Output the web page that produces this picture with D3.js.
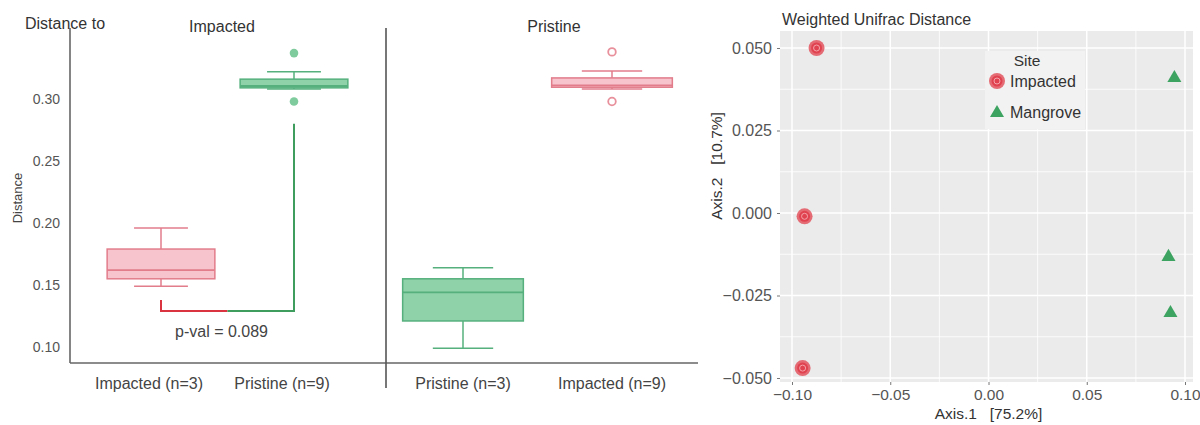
<!DOCTYPE html>
<html>
<head>
<meta charset="utf-8">
<script src="https://cdn.jsdelivr.net/npm/d3@7"></script>
<style>
  body { margin: 0; background: #fff; }
  svg { display: block; }
  text { font-family: "Liberation Sans", Arial, sans-serif; }
</style>
</head>
<body>
<svg id="chart" width="1200" height="425"></svg>
<script>
// ---- boxplots: distance to Impacted / Pristine ----
const panelTitles = ["Impacted", "Pristine"];
const panelCats = [["Impacted (n=3)", "Pristine (n=9)"], ["Pristine (n=3)", "Impacted (n=9)"]];
const panelGroups = [["Impacted", "Pristine"], ["Pristine", "Impacted"]];
const whiskLo = [[0.149, 0.308], [0.099, 0.308]];
const q1 = [[0.155, 0.309], [0.121, 0.3095]];
const med = [[0.162, 0.3105], [0.144, 0.311]];
const q3 = [[0.179, 0.316], [0.155, 0.317]];
const whiskHi = [[0.196, 0.322], [0.164, 0.3225]];
const outliers = [[[], [0.337, 0.298]], [[], [0.338, 0.298]]];
const distTicks = [0.10, 0.15, 0.20, 0.25, 0.30];
const bracketVals = [0.138, 0.129, 0.280]; // red top, bar level, green top
const pvalText = "p-val = 0.089";

// ---- PCoA, weighted unifrac ----
const pcoaSite = ["Impacted", "Impacted", "Impacted", "Mangrove", "Mangrove", "Mangrove"];
const axis1 = [-0.0875, -0.0936, -0.0946, 0.0946, 0.0916, 0.0926];
const axis2 = [0.050, -0.001, -0.047, 0.0412, -0.013, -0.030];
const pcoaXTicks = [-0.10, -0.05, 0, 0.05, 0.10];
const pcoaYTicks = [-0.05, -0.025, 0, 0.025, 0.05];
const legendSites = ["Impacted", "Mangrove"];

const col = {
  Impacted: { fill: "#f7c3cc", stroke: "#e27d8b", dot: "#e8909b" },
  Pristine: { fill: "#8fd1a9", stroke: "#55b07d", dot: "#7fcb9d" }
};

const svg = d3.select("#chart");

// ---------------- left: boxplots ----------------
const yDist = d3.scaleLinear().domain([0.10, 0.30]).range([347, 99]);
const panelRanges = [[161, 294], [463, 612]];

svg.append("line").attr("x1", 70).attr("x2", 70).attr("y1", 28).attr("y2", 363)
  .attr("stroke", "#666").attr("stroke-width", 1.6);
svg.append("line").attr("x1", 70).attr("x2", 698).attr("y1", 363).attr("y2", 363)
  .attr("stroke", "#666").attr("stroke-width", 1.6);
svg.append("line").attr("x1", 386).attr("x2", 386).attr("y1", 28).attr("y2", 388)
  .attr("stroke", "#555").attr("stroke-width", 1.6);

const yAx = svg.append("g").attr("transform", "translate(70,0)")
  .call(d3.axisLeft(yDist).tickValues(distTicks).tickFormat(d3.format(".2f")).tickSize(0).tickPadding(10));
yAx.select(".domain").remove();
yAx.selectAll("text").attr("font-family", "DejaVu Sans, sans-serif").attr("font-size", 14).attr("fill", "#555");

svg.append("text").attr("x", 25).attr("y", 29).attr("font-size", 16).attr("fill", "#333").text("Distance to");
svg.append("text").attr("transform", "translate(22,198) rotate(-90)").attr("text-anchor", "middle")
  .attr("font-size", 13).attr("fill", "#444").text("Distance");

panelTitles.forEach((title, p) => {
  const xs = d3.scalePoint().domain(panelCats[p]).range(panelRanges[p]);
  const step = panelRanges[p][1] - panelRanges[p][0];
  const bw = step * 0.81;
  const titleX = p === 0 ? 222 : 554;
  svg.append("text").attr("x", titleX).attr("y", 32).attr("text-anchor", "middle")
    .attr("font-size", 16).attr("fill", "#333").text(title);

  panelCats[p].forEach((cat, i) => {
    const c = col[panelGroups[p][i]];
    const cx = xs(cat);
    const g = svg.append("g");
    g.append("line").attr("x1", cx).attr("x2", cx).attr("y1", yDist(whiskHi[p][i])).attr("y2", yDist(q3[p][i]))
      .attr("stroke", c.stroke).attr("stroke-width", 1.5);
    g.append("line").attr("x1", cx).attr("x2", cx).attr("y1", yDist(q1[p][i])).attr("y2", yDist(whiskLo[p][i]))
      .attr("stroke", c.stroke).attr("stroke-width", 1.5);
    [whiskHi[p][i], whiskLo[p][i]].forEach(v => {
      g.append("line").attr("x1", cx - bw / 4).attr("x2", cx + bw / 4).attr("y1", yDist(v)).attr("y2", yDist(v))
        .attr("stroke", c.stroke).attr("stroke-width", 1.5);
    });
    g.append("rect").attr("x", cx - bw / 2).attr("width", bw)
      .attr("y", yDist(q3[p][i])).attr("height", yDist(q1[p][i]) - yDist(q3[p][i]))
      .attr("fill", c.fill).attr("stroke", c.stroke).attr("stroke-width", 1.5);
    g.append("line").attr("x1", cx - bw / 2).attr("x2", cx + bw / 2).attr("y1", yDist(med[p][i])).attr("y2", yDist(med[p][i]))
      .attr("stroke", c.stroke).attr("stroke-width", 1.8);
    outliers[p][i].forEach(v => {
      const hollow = panelGroups[p][i] === "Impacted";
      g.append("circle").attr("cx", cx).attr("cy", yDist(v)).attr("r", hollow ? 3.8 : 4.3)
        .attr("fill", hollow ? "none" : c.dot).attr("stroke", hollow ? c.dot : "none").attr("stroke-width", 1.8);
    });
    svg.append("text").attr("x", cx - (p === 0 ? 12 : 0)).attr("y", 389).attr("text-anchor", "middle")
      .attr("font-size", 16).attr("fill", "#444").text(cat);
  });

  if (p === 0) {
    const x0 = xs(panelCats[0][0]), x1 = xs(panelCats[0][1]), xm = (x0 + x1) / 2;
    svg.append("path").attr("d", `M${x0},${yDist(bracketVals[0])}V${yDist(bracketVals[1])}H${xm}`)
      .attr("fill", "none").attr("stroke", "#d9343f").attr("stroke-width", 2);
    svg.append("path").attr("d", `M${xm},${yDist(bracketVals[1])}H${x1}V${yDist(bracketVals[2])}`)
      .attr("fill", "none").attr("stroke", "#3f9e5e").attr("stroke-width", 2);
    svg.append("text").attr("x", xm - 6).attr("y", 337).attr("text-anchor", "middle")
      .attr("font-size", 16).attr("fill", "#444").text(pvalText);
  }
});

// ---------------- right: PCoA ----------------
const xP = d3.scaleLinear().domain([-0.10, 0.10]).range([792, 1185]);
const yP = d3.scaleLinear().domain([-0.05, 0.05]).range([378, 48]);
const pl = 780, pr = 1193, pt = 31, pb = 382;

svg.append("rect").attr("x", pl).attr("y", pt).attr("width", pr - pl).attr("height", pb - pt).attr("fill", "#ebebeb");

const xMinor = pcoaXTicks.slice(1).map((t, i) => (t + pcoaXTicks[i]) / 2);
const yMinor = pcoaYTicks.slice(1).map((t, i) => (t + pcoaYTicks[i]) / 2);
const grid = svg.append("g").attr("stroke", "#fff");
xMinor.forEach(v => grid.append("line").attr("x1", xP(v)).attr("x2", xP(v)).attr("y1", pt).attr("y2", pb).attr("stroke-width", 0.8));
yMinor.forEach(v => grid.append("line").attr("x1", pl).attr("x2", pr).attr("y1", yP(v)).attr("y2", yP(v)).attr("stroke-width", 0.8));
pcoaXTicks.forEach(v => grid.append("line").attr("x1", xP(v)).attr("x2", xP(v)).attr("y1", pt).attr("y2", pb).attr("stroke-width", 1.5));
pcoaYTicks.forEach(v => grid.append("line").attr("x1", pl).attr("x2", pr).attr("y1", yP(v)).attr("y2", yP(v)).attr("stroke-width", 1.5));

const xAxP = svg.append("g").attr("transform", `translate(0,${pb})`)
  .call(d3.axisBottom(xP).tickValues(pcoaXTicks).tickFormat(d3.format(".2f")).tickSize(3).tickPadding(4));
xAxP.select(".domain").remove();
xAxP.selectAll("line").attr("stroke", "#777");
xAxP.selectAll("text").attr("font-size", 15.5).attr("fill", "#555").attr("font-family", "Liberation Sans, Arial, sans-serif");

const yAxP = svg.append("g").attr("transform", `translate(${pl},0)`)
  .call(d3.axisLeft(yP).tickValues(pcoaYTicks).tickFormat(d3.format(".3f")).tickSize(3).tickPadding(5));
yAxP.select(".domain").remove();
yAxP.selectAll("line").attr("stroke", "#777");
yAxP.selectAll("text").attr("font-size", 16).attr("fill", "#555").attr("font-family", "Liberation Sans, Arial, sans-serif");

svg.append("text").attr("x", 782).attr("y", 25).attr("font-size", 16).attr("fill", "#333").text("Weighted Unifrac Distance");
svg.append("text").attr("x", xP(0)).attr("y", 419).attr("text-anchor", "middle").attr("font-size", 15.5)
  .attr("fill", "#333").style("white-space", "pre").text("Axis.1   [75.2%]");
svg.append("text").attr("transform", "translate(722,166) rotate(-90)").attr("text-anchor", "middle").attr("font-size", 15.5)
  .attr("fill", "#333").style("white-space", "pre").text("Axis.2   [10.7%]");

const tri = d3.symbol().type(d3.symbolTriangle).size(85);
function drawMark(g, site, x, y) {
  if (site === "Impacted") {
    g.append("circle").attr("cx", x).attr("cy", y).attr("r", 8).attr("fill", "#e3555f").attr("opacity", 0.85);
    g.append("circle").attr("cx", x).attr("cy", y).attr("r", 5.5).attr("fill", "#e0434f");
    g.append("circle").attr("cx", x).attr("cy", y).attr("r", 3).attr("fill", "none").attr("stroke", "#f5a3aa").attr("stroke-width", 1);
  } else {
    g.append("path").attr("d", tri).attr("transform", `translate(${x},${y + 1})`).attr("fill", "#3da361");
  }
}

const pts = svg.append("g");
pcoaSite.forEach((s, i) => drawMark(pts, s, xP(axis1[i]), yP(axis2[i])));

// legend
const lg = svg.append("g");
lg.append("rect").attr("x", 985).attr("y", 51).attr("width", 100).attr("height", 78).attr("fill", "#f2f2f2");
lg.append("text").attr("x", 1027).attr("y", 66).attr("text-anchor", "middle").attr("font-size", 15.5).attr("fill", "#333").text("Site");
legendSites.forEach((s, i) => {
  const y = 81 + i * 31;
  drawMark(lg, s, 997, y);
  lg.append("text").attr("x", 1010).attr("y", y + 5.5).attr("font-size", 16).attr("fill", "#333").text(s);
});
</script>
</body>
</html>
